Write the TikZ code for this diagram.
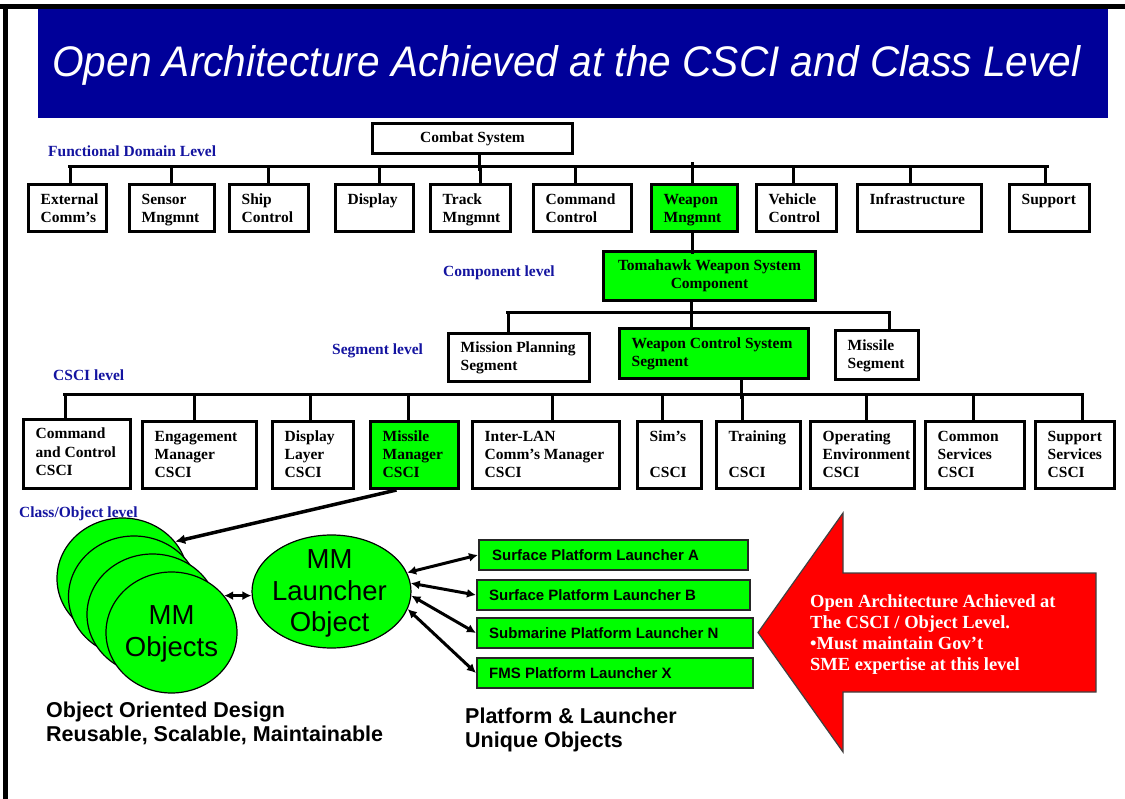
\documentclass[tikz,border=0pt]{standalone}
\usepackage{graphicx}
\usepackage{fontspec}
\setmainfont{Liberation Serif}
\newfontfamily\ari{Liberation Sans}
\usetikzlibrary{shapes.geometric,arrows.meta}
\definecolor{banner}{RGB}{0,0,153}
\definecolor{lblue}{RGB}{20,20,160}
\definecolor{bgreen}{RGB}{0,255,0}
\definecolor{rred}{RGB}{255,0,0}
\newcommand{\tb}{\bfseries\fontsize{15.5}{18}\selectfont}
\tikzset{
  x=1pt, y=-1pt,
  boxst/.style={draw=black, line width=3pt, inner sep=0pt, anchor=north west},
  boxtxt/.style={anchor=base west, inner sep=0pt, font=\tb},
  conn/.style={draw=black, line width=3pt, line cap=rect},
  lvl/.style={anchor=base west, inner sep=0pt, font=\tb, text=lblue},
  ell/.style={ellipse, draw=black, line width=1.2pt, fill=bgreen, inner sep=0pt},
  elltxt/.style={font=\ari\fontsize{27.5}{31.5}\selectfont, align=center, inner sep=0pt},
  lbox/.style={draw=black!85, line width=2pt, fill=bgreen, inner sep=0pt, anchor=north west},
  ltxt/.style={anchor=west, inner sep=0pt, font=\ari\bfseries\fontsize{15}{18}\selectfont, text height=10.5pt, text depth=0pt},
  darr/.style={line width=3pt, {Latex[length=9pt,width=9pt]}-{Latex[length=9pt,width=9pt]}},
  sarr/.style={line width=3.5pt, -{Latex[length=10pt,width=10pt]}},
  bigsans/.style={anchor=base west, inner sep=0pt, font=\ari\bfseries\fontsize{21.5}{24}\selectfont},
}
\newcommand{\mkbox}[8]{%
  \pgfmathsetmacro\bw{#4-#2}\pgfmathsetmacro\bh{#5-#3}%
  \node[boxst, fill=#6, minimum width=\bw pt, minimum height=\bh pt] (#1) at (#2,#3) {};
  \node[boxtxt] (#1t) at (#2+13.5,#3+#7) {\parbox[t]{300pt}{\raggedright #8}};
}
\newcommand{\stub}[3]{\draw[conn] ([xshift=#2pt]#1.north) -- ++(0,-#3);}
\begin{document}
\begin{tikzpicture}
\useasboundingbox (0,0) rectangle (1125,799);
% frame
\fill[black] (0,4) rectangle (1125,9);
\fill[black] (3,4) rectangle (8,799);
% banner
\fill[banner] (38,9) rectangle (1108,118);
\node[anchor=base west, inner sep=0pt, text=white] (title) at (52,77)
  {\resizebox{1028pt}{31pt}{\ari\itshape Open Architecture Achieved at the CSCI and Class Level}};
% level labels
\node[lvl] (lfd) at (48,157) {Functional Domain Level};
\node[lvl] (lcp) at (443,277) {Component level};
\node[lvl] (lsg) at (332,355) {Segment level};
\node[lvl] (lcs) at (53,381) {CSCI level};
\node[lvl] (lco) at (19,517) {Class/Object level};
% combat system
\node[boxst, fill=white, minimum width=200pt, minimum height=30pt, font=\tb] (cs) at (371,122) {Combat System};
% domain row
\mkbox{ext}{27}{183}{105}{230}{white}{22}{External\\Comm’s}
\mkbox{sen}{128}{183}{213}{230}{white}{22}{Sensor\\Mngmnt}
\mkbox{shp}{228}{183}{307}{230}{white}{22}{Ship\\Control}
\mkbox{dsp}{334}{183}{412}{230}{white}{22}{Display}
\mkbox{trk}{429}{183}{509}{230}{white}{22}{Track\\Mngmnt}
\mkbox{cmd}{532}{183}{630}{230}{white}{22}{Command\\Control}
\mkbox{wpn}{650}{183}{736}{230}{bgreen}{22}{Weapon\\Mngmnt}
\mkbox{veh}{755}{183}{835}{230}{white}{22}{Vehicle\\Control}
\mkbox{inf}{856}{183}{980}{230}{white}{22}{Infrastructure}
\mkbox{sup}{1008}{183}{1088}{230}{white}{22}{Support}
\coordinate (busA1) at (69,167);
\coordinate (busA2) at (1047,167);
\draw[conn] (busA1) -- (busA2);
\draw[conn] ([xshift=7pt]cs.south) -- ++(0,15);
\stub{ext}{3}{16}
\stub{sen}{-0.5}{16}
\stub{shp}{-0.5}{16}
\stub{dsp}{5}{16}
\stub{trk}{10}{16}
\stub{cmd}{-7}{16}
\stub{wpn}{-2}{19}
\stub{veh}{-3}{16}
\stub{inf}{-9}{16}
\stub{sup}{-4}{16}
% component
\node[boxst, fill=bgreen, minimum width=212pt, minimum height=49pt, font=\tb, align=center] (twc) at (602,250) {Tomahawk Weapon System\\Component};
\draw[conn] ([xshift=-2pt]wpn.south) -- ++(0,20);
% segment row
\mkbox{mps}{447}{332}{588}{380}{white}{21}{Mission Planning\\Segment}
\mkbox{wcs}{618}{327}{807}{377}{bgreen}{22}{Weapon Control System\\Segment}
\mkbox{msg}{834}{329}{917}{378}{white}{22}{Missile\\Segment}
\coordinate (busB1) at (507,313);
\coordinate (busB2) at (888,313);
\draw[conn] (busB1) -- (busB2);
\draw[conn] ([xshift=-18pt]twc.south) -- ([xshift=-22.5pt]wcs.north);
\stub{mps}{-10.5}{19}
\stub{msg}{12.5}{16}
% CSCI row
\mkbox{cc}{22}{418}{129}{487}{white}{21}{Command\\and Control\\CSCI}
\mkbox{em}{141}{420}{255}{487}{white}{22}{Engagement\\Manager\\CSCI}
\mkbox{dl}{271}{420}{352}{487}{white}{22}{Display\\Layer\\CSCI}
\mkbox{mmc}{369}{420}{457}{487}{bgreen}{22}{Missile\\Manager\\CSCI}
\mkbox{il}{471}{420}{618}{487}{white}{22}{Inter-LAN\\Comm’s Manager\\CSCI}
\mkbox{sim}{636}{420}{700}{487}{white}{22}{Sim’s\\\mbox{}\\CSCI}
\mkbox{trn}{715}{420}{799}{487}{white}{22}{Training\\\mbox{}\\CSCI}
\mkbox{oe}{809}{420}{913}{487}{white}{22}{Operating\\Environment\\CSCI}
\mkbox{cms}{924}{420}{1023}{487}{white}{22}{Common\\Services\\CSCI}
\mkbox{sps}{1034}{420}{1113}{487}{white}{22}{Support\\Services\\CSCI}
\draw[conn] ([xshift=27.5pt]wcs.south) -- ++(0,18);
\coordinate (busC1) at (64,395);
\coordinate (busC2) at (1081,395);
\draw[conn] (busC1) -- (busC2);
\stub{cc}{-11.5}{23}
\stub{em}{-5}{25}
\stub{dl}{-2.5}{25}
\stub{mmc}{-6}{25}
\stub{il}{6.5}{25}
\stub{sim}{-7}{25}
\stub{trn}{-16}{25}
\stub{oe}{4}{25}
\stub{cms}{-1.5}{25}
\stub{sps}{7.5}{25}
% object circles
\node[ell, minimum width=131pt, minimum height=121pt] (mm1) at (122.5,578.5) {};
\node[elltxt] (mm1t) at ([shift={(0,1.5)}]mm1.center) {MM\\Objects};
\node[ell, minimum width=131pt, minimum height=121pt] (mm2) at (134,596.5) {};
\node[elltxt] (mm2t) at ([shift={(0,1.5)}]mm2.center) {MM\\Objects};
\node[ell, minimum width=131pt, minimum height=121pt] (mm3) at (152.5,614.5) {};
\node[elltxt] (mm3t) at ([shift={(0,1.5)}]mm3.center) {MM\\Objects};
\node[ell, minimum width=131pt, minimum height=121pt] (mm4) at (171.5,632.5) {};
\node[elltxt] (mm4t) at ([shift={(0,1.5)}]mm4.center) {MM\\Objects};
\node[ell, minimum width=159pt, minimum height=113pt] (launch) at (331.5,591.5) {};
\node[elltxt] (launcht) at ([shift={(-2,2)}]launch.center) {MM\\Launcher\\Object};
\draw[darr] (mm4.35) -- (mm4.35 -| launch.west);
\draw[sarr] ([xshift=-18pt]mmc.south) -- (mm1.35);
% launcher boxes
\node[lbox, minimum width=269pt, minimum height=30pt] (lA) at (478,539) {};
\node[ltxt] (lAt) at ([xshift=14pt]lA.west) {Surface Platform Launcher A};
\node[lbox, minimum width=273pt, minimum height=30pt] (lB) at (476,579) {};
\node[ltxt] (lBt) at ([xshift=13pt]lB.west) {Surface Platform Launcher B};
\node[lbox, minimum width=276pt, minimum height=30pt] (lN) at (476,617) {};
\node[ltxt] (lNt) at ([xshift=13pt]lN.west) {Submarine Platform Launcher N};
\node[lbox, minimum width=276pt, minimum height=30pt] (lX) at (476,657) {};
\node[ltxt] (lXt) at ([xshift=13pt]lX.west) {FMS Platform Launcher X};
\draw[darr] (launch.14) -- (lA.west);
\draw[darr] (launch.6) -- (lB.west);
\draw[darr] (launch.-3) -- (lN.west);
\draw[darr] (launch.-13) -- (lX.west);
% bottom texts
\node[bigsans] (ood) at (46,717) {\parbox[t]{400pt}{\raggedright Object Oriented Design\\Reusable, Scalable, Maintainable}};
\node[bigsans] (plu) at (465,723) {\parbox[t]{300pt}{\raggedright Platform \& Launcher\\Unique Objects}};
% red arrow
\draw[fill=rred, draw=black!75, line width=1.2pt] (758,632.5) -- (843,513) -- (843,573) -- (1096,573) -- (1096,692) -- (843,692) -- (843,752) -- cycle;
\node[anchor=base west, inner sep=0pt, text=white, font=\bfseries\fontsize{18.5}{21}\selectfont] (rtxt) at (810,607)
  {\parbox[t]{300pt}{\raggedright Open Architecture Achieved at\\The CSCI / Object Level.\\•Must maintain Gov’t\\SME expertise at this level}};
\end{tikzpicture}
\end{document}
